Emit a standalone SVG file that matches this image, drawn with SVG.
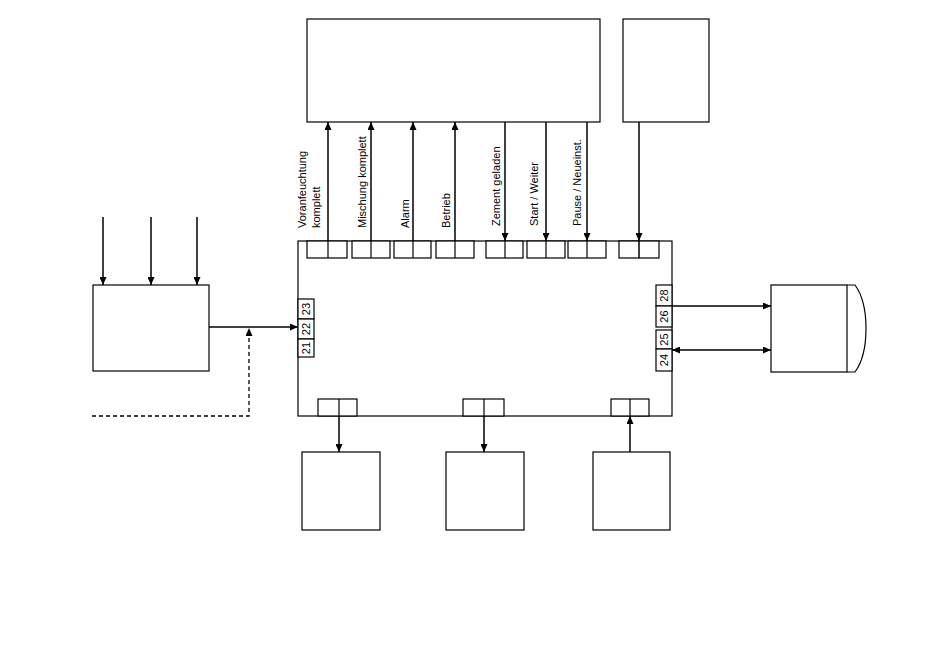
<svg xmlns="http://www.w3.org/2000/svg" width="950" height="648" viewBox="0 0 950 648">
<defs>
<marker id="ah" viewBox="0 0 8 7" refX="8" refY="3.5" markerWidth="8" markerHeight="7" markerUnits="userSpaceOnUse" orient="auto-start-reverse">
<path d="M0,0 L8,3.5 L0,7 z" fill="#000"/>
</marker>
<style>
.b{fill:#fff;stroke:#000;stroke-width:1.2}
.c{fill:none;stroke:#000;stroke-width:1.2}
.w{stroke:#000;stroke-width:1.5;fill:none}
.a{stroke:#000;stroke-width:1.5;fill:none;marker-end:url(#ah)}
.d{stroke:#000;stroke-width:1.5;fill:none;marker-end:url(#ah);marker-start:url(#ah)}
.s{stroke:#000;stroke-width:1.3;fill:none;stroke-dasharray:4,3;marker-end:url(#ah)}
text{font-family:"Liberation Sans",Arial,sans-serif;font-size:11px;fill:#000}
.n{text-anchor:middle}
</style>
</defs>
<rect width="950" height="648" fill="#fff"/>

<g id="top-box"><rect class="b" x="307" y="19" width="293" height="103"/></g>
<g id="top-right-box"><rect class="b" x="623" y="19" width="86" height="103"/></g>
<g id="left-box"><rect class="b" x="93" y="285" width="116" height="86"/></g>
<g id="right-device">
<rect class="b" x="771" y="285" width="76" height="87"/>
<path class="c" d="M847,285 L855,285 Q866,300 866,328.5 Q866,357 855,372 L847,372"/>
</g>
<g id="bottom-box-1"><rect class="b" x="302" y="452" width="78" height="78"/></g>
<g id="bottom-box-2"><rect class="b" x="446" y="452" width="78" height="78"/></g>
<g id="bottom-box-3"><rect class="b" x="593" y="452" width="77" height="78"/></g>

<g id="main-box">
<rect class="b" x="298" y="241" width="374" height="175"/>
<!-- top terminal pairs -->
<rect class="b" x="307" y="241" width="40" height="17"/><line class="c" x1="328" y1="241" x2="328" y2="258"/>
<rect class="b" x="352" y="241" width="38" height="17"/><line class="c" x1="371" y1="241" x2="371" y2="258"/>
<rect class="b" x="394" y="241" width="37" height="17"/><line class="c" x1="413" y1="241" x2="413" y2="258"/>
<rect class="b" x="436" y="241" width="38" height="17"/><line class="c" x1="455" y1="241" x2="455" y2="258"/>
<rect class="b" x="486" y="241" width="37" height="17"/><line class="c" x1="505" y1="241" x2="505" y2="258"/>
<rect class="b" x="527" y="241" width="38" height="17"/><line class="c" x1="546" y1="241" x2="546" y2="258"/>
<rect class="b" x="568" y="241" width="38" height="17"/><line class="c" x1="587" y1="241" x2="587" y2="258"/>
<rect class="b" x="619" y="241" width="40" height="17"/><line class="w" x1="639" y1="241" x2="639" y2="258"/>
<!-- bottom terminal pairs -->
<rect class="b" x="318" y="399" width="39" height="17"/><line class="c" x1="339" y1="399" x2="339" y2="416"/>
<rect class="b" x="463" y="399" width="41" height="17"/><line class="c" x1="484" y1="399" x2="484" y2="416"/>
<rect class="b" x="611" y="399" width="38" height="17"/><line class="c" x1="630" y1="399" x2="630" y2="416"/>
<!-- left terminals -->
<rect class="b" x="298" y="299" width="16" height="20"/>
<rect class="b" x="298" y="319" width="16" height="20"/>
<rect class="b" x="298" y="339" width="16" height="18"/>
<text class="n" transform="translate(310,309) rotate(-90)">23</text>
<text class="n" transform="translate(310,329) rotate(-90)">22</text>
<text class="n" transform="translate(310,348) rotate(-90)">21</text>
<!-- right terminals -->
<rect class="b" x="656" y="285" width="16" height="21"/>
<rect class="b" x="656" y="306" width="16" height="21"/>
<rect class="b" x="656" y="330" width="16" height="19"/>
<rect class="b" x="656" y="349" width="16" height="22"/>
<text class="n" transform="translate(668,295.5) rotate(-90)">28</text>
<text class="n" transform="translate(668,316.5) rotate(-90)">26</text>
<text class="n" transform="translate(668,339.5) rotate(-90)">25</text>
<text class="n" transform="translate(668,360) rotate(-90)">24</text>
</g>

<g id="connectors">
<line class="a" x1="328" y1="241" x2="328" y2="122"/>
<line class="a" x1="371" y1="241" x2="371" y2="122"/>
<line class="a" x1="413" y1="241" x2="413" y2="122"/>
<line class="a" x1="455" y1="241" x2="455" y2="122"/>
<line class="a" x1="505" y1="122" x2="505" y2="241"/>
<line class="a" x1="546" y1="122" x2="546" y2="241"/>
<line class="a" x1="587" y1="122" x2="587" y2="241"/>
<line class="a" x1="639" y1="122" x2="639" y2="241"/>
<line class="a" x1="103" y1="217" x2="103" y2="285"/>
<line class="a" x1="151" y1="217" x2="151" y2="285"/>
<line class="a" x1="197" y1="217" x2="197" y2="285"/>
<line class="a" x1="209" y1="327" x2="298" y2="327"/>
<polyline class="s" points="92,416 249,416 249,328"/>
<line class="a" x1="672" y1="306" x2="771" y2="306"/>
<line class="d" x1="672" y1="350" x2="771" y2="350"/>
<line class="a" x1="339" y1="416" x2="339" y2="452"/>
<line class="a" x1="484" y1="416" x2="484" y2="452"/>
<line class="a" x1="630" y1="452" x2="630" y2="416"/>
</g>

<g id="labels">
<text transform="translate(306,228) rotate(-90)">Voranfeuchtung</text>
<text transform="translate(320,228) rotate(-90)">komplett</text>
<text transform="translate(366,228) rotate(-90)">Mischung komplett</text>
<text transform="translate(409,228) rotate(-90)">Alarm</text>
<text transform="translate(450,228) rotate(-90)">Betrieb</text>
<text transform="translate(500,226) rotate(-90)">Zement geladen</text>
<text transform="translate(538,226) rotate(-90)">Start / Weiter</text>
<text transform="translate(581,226) rotate(-90)">Pause / Neueinst.</text>
</g>
</svg>
